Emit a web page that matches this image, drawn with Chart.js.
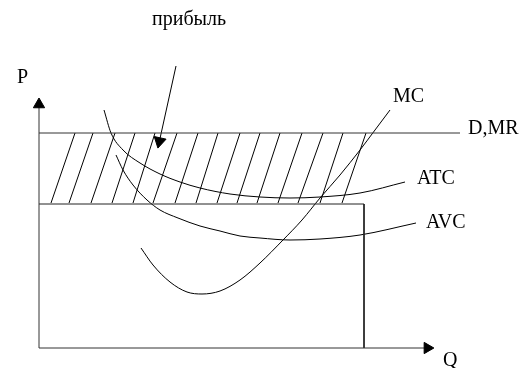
<!DOCTYPE html>
<html>
<head>
<meta charset="utf-8">
<script src="https://cdn.jsdelivr.net/npm/chart.js@4/dist/chart.umd.min.js"></script>
<style>
  body { margin: 0; background: #fff; }
  canvas { display: block; }
</style>
</head>
<body>
<canvas id="firmChart" width="519" height="368"></canvas>
<script>
// Q and P in chart units (Q 0..100, P 0..100)
const atcQ = [16.25, 18, 21, 25.25, 30.25, 35.25, 40.25, 47.75, 55.25, 62.75, 70.25, 80.25, 91.5];
const atcP = [95.2, 86, 79.2, 74, 69.6, 66.4, 64, 61.6, 60.4, 60, 60.4, 62, 66.4];

const avcQ = [19.25, 21, 23.5, 27, 30.25, 34.75, 40.25, 45.25, 50.25, 55.25, 62.75, 70.25, 80.25, 94.25];
const avcP = [77.2, 71.2, 65.2, 59.2, 55.2, 52, 48.8, 46.8, 44.8, 44, 43.2, 43.6, 45.2, 50];

const mcQ = [25.5, 28.5, 32.75, 37, 40.75, 45.25, 50.25, 55.25, 61, 65.75, 70.25, 75.25, 80.25, 84, 87.75];
const mcP = [40, 33.2, 26.4, 22.4, 21.6, 22.8, 27.2, 34, 43.2, 51.2, 60, 69.2, 79.2, 87.2, 95.2];

const priceP = 86;          // D,MR
const rectP = 57.6;         // top of the lower rectangle
const rectQ = 81.25;        // output
const demandEndQ = 105.25;

const hatchBottomQ = [3, 7.5, 13, 18.25, 23.5, 28.5, 34, 39.25, 44.5, 49.5, 54.5, 59.75, 64.75, 70.25, 75.75];
const hatchTopQ = [9, 13.5, 19, 24, 29, 34.5, 39.75, 44.75, 50.25, 55.25, 60.25, 65.75, 71, 76, 81.75];
const hatchBottomP = 58;
const hatchTopP = 86;

const profitArrowQ = [34.25, 30.1];
const profitArrowP = [112.8, 82.7];

const axisEndQ = 97.1;
const axisEndP = 97.4;

const labelText = ['прибыль', 'P', 'MC', 'D,MR', 'ATC', 'AVC', 'Q'];
const labelQ = [28.25, -5.5, 88.5, 107.25, 94.5, 96.75, 101];
const labelP = [129.2, 106, 98.4, 85.6, 65.6, 48, -7.2];

function pts(qs, ps) {
  return qs.map((q, i) => ({ x: q, y: ps[i] }));
}

const hatchData = [];
hatchBottomQ.forEach((q, i) => {
  hatchData.push({ x: q, y: hatchBottomP });
  hatchData.push({ x: hatchTopQ[i], y: hatchTopP });
  hatchData.push({ x: hatchTopQ[i], y: null });
});

const textLabels = {
  id: 'textLabels',
  afterDatasetsDraw(chart) {
    const ctx = chart.ctx;
    const xs = chart.scales.x, ys = chart.scales.y;
    ctx.save();
    ctx.fillStyle = '#000';
    ctx.font = '20px "Liberation Serif", "Times New Roman", serif';
    ctx.textAlign = 'left';
    ctx.textBaseline = 'alphabetic';
    labelText.forEach((t, i) => {
      ctx.fillText(t, xs.getPixelForValue(labelQ[i]), ys.getPixelForValue(labelP[i]));
    });
    ctx.restore();
  }
};

function curve(data, smooth) {
  return {
    data: data,
    showLine: true,
    borderColor: '#000',
    borderWidth: 1,
    tension: smooth ? 0.4 : 0,
    cubicInterpolationMode: smooth ? 'monotone' : 'default',
    pointRadius: 0,
    clip: false
  };
}

const yAxis = curve([{ x: 0, y: 0 }, { x: 0, y: axisEndP }], false);
yAxis.borderColor = '#333';
yAxis.pointStyle = 'triangle';
yAxis.pointRadius = [0, 6.5];
yAxis.pointRotation = [0, 0];
yAxis.pointBackgroundColor = '#000';
yAxis.pointBorderColor = '#000';

const xAxis = curve([{ x: 0, y: 0 }, { x: axisEndQ, y: 0 }], false);
xAxis.borderColor = '#333';
xAxis.pointStyle = 'triangle';
xAxis.pointRadius = [0, 6.5];
xAxis.pointRotation = [0, 90];
xAxis.pointBackgroundColor = '#000';
xAxis.pointBorderColor = '#000';

const arrow = curve(pts(profitArrowQ, profitArrowP), false);
arrow.pointStyle = 'triangle';
arrow.pointRadius = [0, 7];
arrow.pointRotation = [0, 192.4];
arrow.pointBackgroundColor = '#000';
arrow.pointBorderColor = '#000';

const demand = curve([{ x: 0, y: priceP }, { x: demandEndQ, y: priceP }], false);
demand.borderColor = '#333';

const rect = curve([{ x: 0, y: rectP }, { x: rectQ, y: rectP }, { x: rectQ, y: 0 }], false);
rect.borderColor = '#222';

new Chart(document.getElementById('firmChart'), {
  type: 'scatter',
  data: {
    datasets: [
      yAxis,
      xAxis,
      demand,
      rect,
      curve(hatchData, false),
      curve(pts(atcQ, atcP), true),
      curve(pts(avcQ, avcP), true),
      curve(pts(mcQ, mcP), true),
      arrow
    ]
  },
  options: {
    responsive: false,
    animation: false,
    layout: { padding: { left: 39, right: 80, top: 98, bottom: 20 } },
    scales: {
      x: { type: 'linear', min: 0, max: 100, display: false },
      y: { type: 'linear', min: 0, max: 100, display: false }
    },
    plugins: {
      legend: { display: false },
      tooltip: { enabled: false }
    }
  },
  plugins: [textLabels]
});
</script>
</body>
</html>
